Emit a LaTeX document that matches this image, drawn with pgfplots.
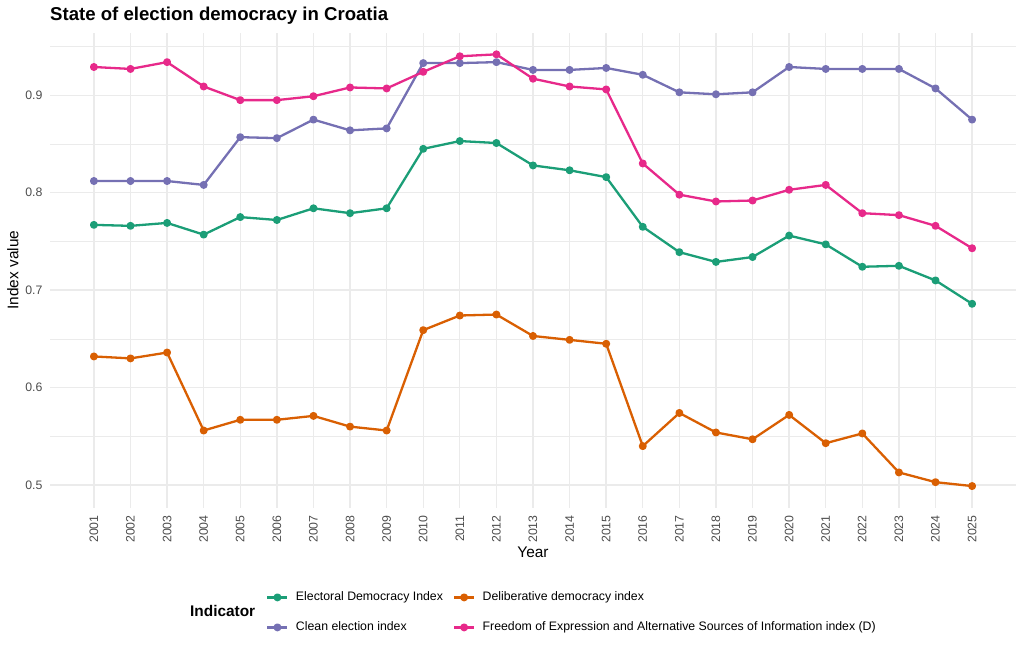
\documentclass[border=0pt]{standalone}
\usepackage{pgfplots}
\pgfplotsset{compat=1.18}
\usepackage{fontspec}
\setmainfont{Liberation Sans}
\definecolor{cgreen}{HTML}{1B9E77}
\definecolor{corange}{HTML}{D95F02}
\definecolor{cpurple}{HTML}{7570B3}
\definecolor{cpink}{HTML}{E7298A}
\definecolor{gridc}{HTML}{EBEBEB}
\definecolor{tickc}{HTML}{4D4D4D}
\begin{document}
\begin{tikzpicture}
\path[use as bounding box] (-50pt,-144.3pt) rectangle (974pt,507.7pt);
\begin{axis}[
  at={(0,0)}, anchor=south west,
  scale only axis, width=966pt, height=475pt,
  xmin=1999.8, xmax=2026.2, ymin=0.4768, ymax=0.9642,
  axis line style={draw=none},
  major tick length=0pt, minor tick length=0pt,
  xtick={2001,2002,...,2025},
  xticklabels={2001,2002,2003,2004,2005,2006,2007,2008,2009,2010,2011,2012,2013,2014,2015,2016,2017,2018,2019,2020,2021,2022,2023,2024,2025},
  minor x tick num=1,
  ytick={0.5,0.6,0.7,0.8,0.9},
  yticklabels={0.5,0.6,0.7,0.8,0.9},
  minor ytick={0.55,0.65,0.75,0.85,0.95},
  grid=both,
  major grid style={draw=gridc, line width=1.4pt},
  minor grid style={draw=gridc, line width=0.7pt},
  every tick label/.append style={font=\fontsize{12.3}{14}\selectfont, text=tickc},
  xticklabel style={yshift=-7.5pt, rotate=90, anchor=east, inner sep=0pt},
  yticklabel style={anchor=east, inner sep=0pt, xshift=-7.3pt},
  xlabel={Year},
  xlabel style={at={(axis description cs:0.5,-0.10442)}, anchor=base, inner sep=0pt, font=\fontsize{15.4}{18}\selectfont},
  ylabel={Index value},
  ylabel style={at={(axis description cs:-0.03282,0.5)}, anchor=base, inner sep=0pt, font=\fontsize{15.4}{18}\selectfont},
  every axis title shift=0pt,
  title={State of election democracy in Croatia},
  title style={at={(axis description cs:0,1.02484)}, anchor=base west, inner sep=0pt, font=\bfseries\fontsize{18.6}{22}\selectfont},
  legend columns=2,
  legend cell align=left,
  legend style={at={(axis description cs:0.2239,-0.1762)}, anchor=north west, draw=none, fill=none, inner sep=0pt, outer sep=0pt, row sep=18pt, font=\fontsize{12.3}{14}\selectfont, nodes={inner sep=0pt, text height=9pt, text depth=3pt}, /tikz/every odd column/.append style={column sep=7.4pt}, /tikz/every even column/.append style={column sep=10pt}},
  legend image code/.code={\draw[mark repeat=2,mark phase=2,#1] plot coordinates {(0pt,0pt) (10pt,0pt) (20pt,0pt)};},
  every axis plot/.append style={line width=2.3pt, line join=round, mark=*, mark size=2.8pt},
]
\addplot[cgreen, mark options={draw=none, fill=cgreen}] coordinates {
(2001,0.767) (2002,0.766) (2003,0.769) (2004,0.757) (2005,0.775) (2006,0.772) (2007,0.784) (2008,0.779) (2009,0.784) (2010,0.845) (2011,0.853) (2012,0.851) (2013,0.828) (2014,0.823) (2015,0.816) (2016,0.765) (2017,0.739) (2018,0.729) (2019,0.734) (2020,0.756) (2021,0.747) (2022,0.724) (2023,0.725) (2024,0.710) (2025,0.686)};
\addlegendentry{Electoral Democracy Index}
\addplot[corange, mark options={draw=none, fill=corange}] coordinates {
(2001,0.632) (2002,0.630) (2003,0.636) (2004,0.556) (2005,0.567) (2006,0.567) (2007,0.571) (2008,0.560) (2009,0.556) (2010,0.659) (2011,0.674) (2012,0.675) (2013,0.653) (2014,0.649) (2015,0.645) (2016,0.540) (2017,0.574) (2018,0.554) (2019,0.547) (2020,0.572) (2021,0.543) (2022,0.553) (2023,0.513) (2024,0.503) (2025,0.499)};
\addlegendentry{Deliberative democracy index}
\addplot[cpurple, mark options={draw=none, fill=cpurple}] coordinates {
(2001,0.812) (2002,0.812) (2003,0.812) (2004,0.808) (2005,0.857) (2006,0.856) (2007,0.875) (2008,0.864) (2009,0.866) (2010,0.933) (2011,0.933) (2012,0.934) (2013,0.926) (2014,0.926) (2015,0.928) (2016,0.921) (2017,0.903) (2018,0.901) (2019,0.903) (2020,0.929) (2021,0.927) (2022,0.927) (2023,0.927) (2024,0.907) (2025,0.875)};
\addlegendentry{Clean election index}
\addplot[cpink, mark options={draw=none, fill=cpink}] coordinates {
(2001,0.929) (2002,0.927) (2003,0.934) (2004,0.909) (2005,0.895) (2006,0.895) (2007,0.899) (2008,0.908) (2009,0.907) (2010,0.924) (2011,0.940) (2012,0.942) (2013,0.917) (2014,0.909) (2015,0.906) (2016,0.830) (2017,0.798) (2018,0.791) (2019,0.792) (2020,0.803) (2021,0.808) (2022,0.779) (2023,0.777) (2024,0.766) (2025,0.743)};
\addlegendentry{Freedom of Expression and Alternative Sources of Information index (D)}
\end{axis}
\node[anchor=base west, inner sep=0pt, font=\bfseries\fontsize{15.4}{18}\selectfont] at (140pt,-108.8pt) {Indicator};
\end{tikzpicture}
\end{document}
